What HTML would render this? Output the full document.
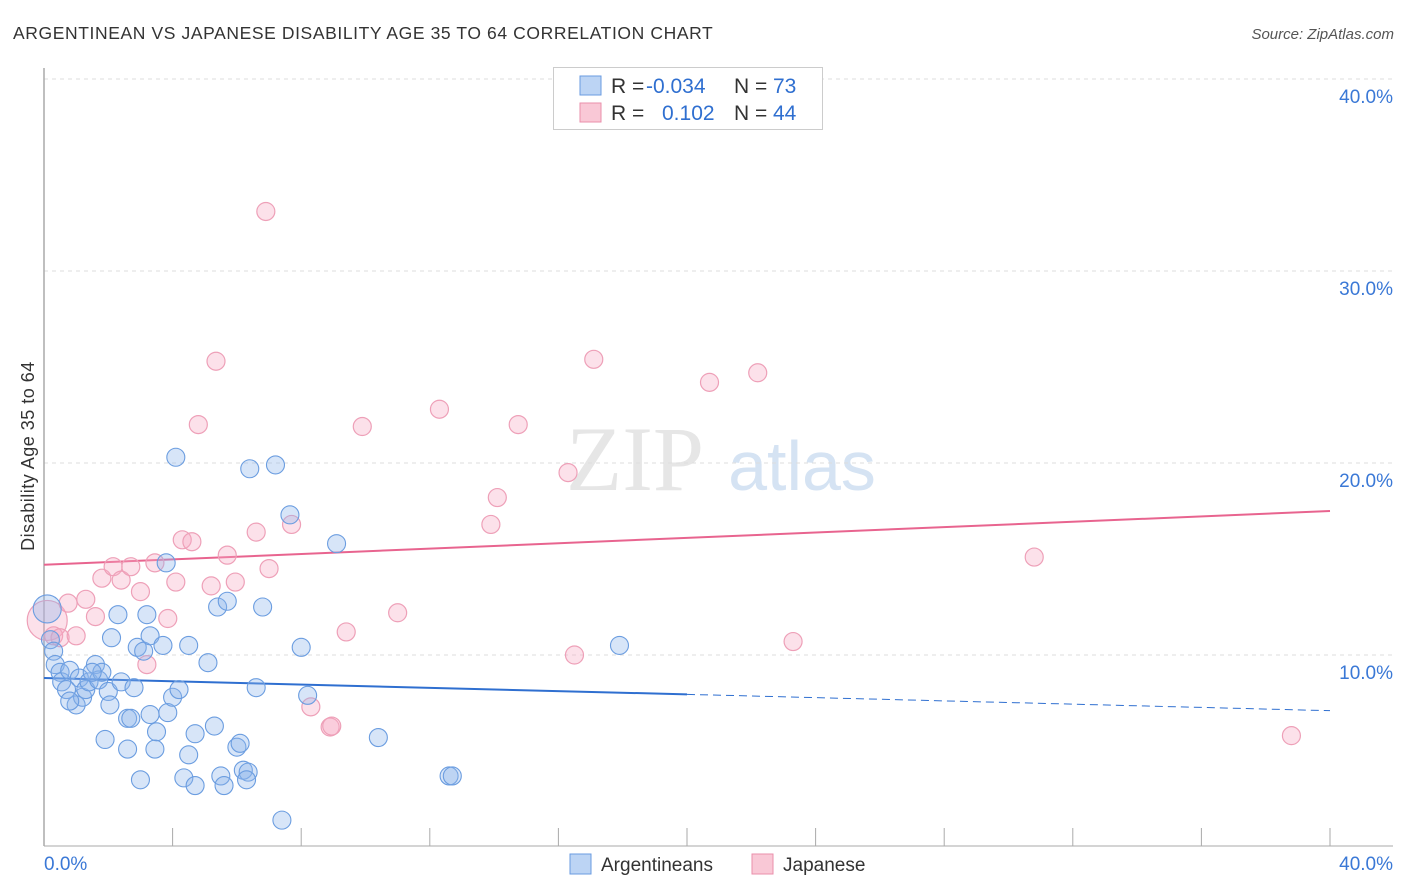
<!DOCTYPE html>
<html><head><meta charset="utf-8"><style>
body{margin:0;background:#fff;font-family:"Liberation Sans",sans-serif;}
#wrap{position:relative;width:1406px;height:892px;overflow:hidden;}
</style></head><body>
<div id="wrap">
<svg id="svg" width="1406" height="892" xmlns="http://www.w3.org/2000/svg">
<text x="13" y="39" font-size="17.5" letter-spacing="0.6" fill="#333">ARGENTINEAN VS JAPANESE DISABILITY AGE 35 TO 64 CORRELATION CHART</text>
<text x="1394" y="39" font-size="15" fill="#555" font-style="italic" text-anchor="end">Source: ZipAtlas.com</text>
<text x="34" y="456" font-size="18" fill="#333" text-anchor="middle" letter-spacing="0.5" transform="rotate(-90 34 456)">Disability Age 35 to 64</text>
<g><text x="635" y="490" font-size="92" fill="#e6e6e6" font-family="Liberation Serif,serif" text-anchor="middle">ZIP</text><text x="802" y="490" font-size="70" fill="#d5e3f3" text-anchor="middle">atlas</text></g>
<g id="grid"></g><g id="axes"></g><g id="lines"></g><g id="pts"></g>
<g>
<rect x="553.5" y="67.5" width="269" height="62" fill="#fff" stroke="#ccc"/>
<rect x="580" y="76" width="21" height="19" fill="#bcd4f4" stroke="#6a9be0"/>
<rect x="580" y="103" width="21" height="19" fill="#f9c8d6" stroke="#ea8fab"/>
<text y="93" font-size="21" fill="#333"><tspan x="611">R = </tspan><tspan x="646" fill="#2f6fd0">-0.034</tspan><tspan x="734">N = </tspan><tspan x="773" fill="#2f6fd0">73</tspan></text>
<text y="120" font-size="21" fill="#333"><tspan x="611">R = </tspan><tspan x="662" fill="#2f6fd0">0.102</tspan><tspan x="734">N = </tspan><tspan x="773" fill="#2f6fd0">44</tspan></text>
</g>
<g>
<rect x="570" y="854" width="21" height="20" fill="#bcd4f4" stroke="#6a9be0"/>
<text x="601" y="871" font-size="19" fill="#333">Argentineans</text>
<rect x="752" y="854" width="21" height="20" fill="#f9c8d6" stroke="#ea8fab"/>
<text x="783" y="871" font-size="19" fill="#333">Japanese</text>
</g>
</svg>
</div>
<script>
const yTicks=[10,20,30,40];
const xTickLabels=["0.0%","40.0%"];
const blueX=[0.1,0.2,0.3,0.35,0.5,0.55,0.7,0.8,1.0,1.1,1.2,1.3,1.4,1.6,1.7,1.8,2.0,2.05,2.1,1.9,2.3,2.4,2.6,2.7,2.6,2.8,2.9,3.0,3.1,3.2,3.3,3.45,3.5,3.7,3.8,3.85,4.0,4.1,4.2,4.35,4.5,4.5,4.7,4.7,5.1,5.3,5.4,5.5,5.6,5.7,6.0,6.1,6.2,6.35,6.3,6.4,6.6,6.8,7.2,7.4,7.65,8.0,8.2,9.1,10.4,12.6,12.7,17.9,0.8,1.5,3.3];
const blueY=[12.4,10.8,10.2,9.5,9.1,8.6,8.2,9.2,7.4,8.8,7.8,8.2,8.6,9.5,8.7,9.1,8.1,7.4,10.9,5.6,12.1,8.6,6.7,6.7,5.1,8.3,10.4,3.5,10.2,12.1,11.0,5.1,6.0,10.5,14.8,7.0,7.8,20.3,8.2,3.6,10.5,4.8,3.2,5.9,9.6,6.3,12.5,3.7,3.2,12.8,5.2,5.4,4.0,3.9,3.5,19.7,8.3,12.5,19.9,1.4,17.3,10.4,7.9,15.8,5.7,3.7,3.7,10.5,7.6,9.1,6.9];
const pinkX=[0.1,0.3,0.5,0.75,1.0,1.3,1.6,1.8,2.15,2.4,2.7,3.0,3.2,3.45,3.85,4.1,4.3,4.6,4.8,5.2,5.35,5.7,5.95,6.6,6.9,7.0,7.7,8.3,8.9,8.95,9.4,9.9,11.0,12.3,13.9,14.1,14.75,16.3,16.5,17.1,20.7,22.2,23.3,30.8,38.8];
const pinkY=[11.8,11.0,10.9,12.7,11.0,12.9,12.0,14.0,14.6,13.9,14.6,13.3,9.5,14.8,11.9,13.8,16.0,15.9,22.0,13.6,25.3,15.2,13.8,16.4,33.1,14.5,16.8,7.3,6.25,6.3,11.2,21.9,12.2,22.8,16.8,18.2,22.0,19.5,10.0,25.4,24.2,24.7,10.7,15.1,5.8];
const blueTrend=[8.8,7.1];
const pinkTrend=[14.7,17.5];
const sx=v=>44+v*32.15, sy=v=>847-v*19.2;
const NS="http://www.w3.org/2000/svg";
function mk(p,t,a){const e=document.createElementNS(NS,t);for(const k in a)e.setAttribute(k,a[k]);p.appendChild(e);return e;}
const grid=document.getElementById('grid'),axes=document.getElementById('axes'),lines=document.getElementById('lines'),pts=document.getElementById('pts');
yTicks.forEach(t=>{
 const l=mk(grid,'line',{x1:44,x2:1393,y1:sy(t),y2:sy(t),stroke:'#ddd','stroke-dasharray':'4,4'});
 
 
 const tx=mk(grid,'text',{x:1393,y:sy(t)+24,'font-size':19,fill:'#3a78d6','text-anchor':'end'});
 tx.textContent=t.toFixed(1)+'%';
 
 
});
mk(axes,'line',{x1:44,x2:44,y1:68,y2:846,stroke:'#aaa','stroke-width':1.5});
mk(axes,'line',{x1:44,x2:1393,y1:846,y2:846,stroke:'#aaa','stroke-width':1});
for(let i=0;i<=10;i++){mk(axes,'line',{x1:sx(i*4),x2:sx(i*4),y1:828,y2:846,stroke:'#aaa'});}
xTickLabels.forEach((s,i)=>{
 const tx=mk(axes,'text',{x:i?1393:44,y:870,'font-size':19,fill:'#3a78d6','text-anchor':i?'end':'start'});
 tx.textContent=s;
 
 
});
const bAt=x=>blueTrend[0]+(blueTrend[1]-blueTrend[0])*x/40;
let e=mk(lines,'line',{x1:sx(0),y1:sy(bAt(0)),x2:sx(20),y2:sy(bAt(20)),stroke:'#2f6fd0','stroke-width':2});


e=mk(lines,'line',{x1:sx(20),y1:sy(bAt(20)),x2:sx(40),y2:sy(bAt(40)),stroke:'#2f6fd0','stroke-width':1,'stroke-dasharray':'8,5'});


e=mk(lines,'line',{x1:sx(0),y1:sy(pinkTrend[0]),x2:sx(40),y2:sy(pinkTrend[1]),stroke:'#e8648f','stroke-width':2});


pinkX.forEach((x,i)=>{
 const c=mk(pts,'circle',{cx:sx(x),cy:sy(pinkY[i]),r:i==0?20:9,fill:'rgba(246,170,195,0.35)',stroke:'#eea0b8','stroke-width':1.2});
 
 
});
blueX.forEach((x,i)=>{
 const c=mk(pts,'circle',{cx:sx(x),cy:sy(blueY[i]),r:i==0?14:9,fill:'rgba(140,180,235,0.35)',stroke:'#6b9de0','stroke-width':1.1});
 
 
});
</script>
</body></html>
